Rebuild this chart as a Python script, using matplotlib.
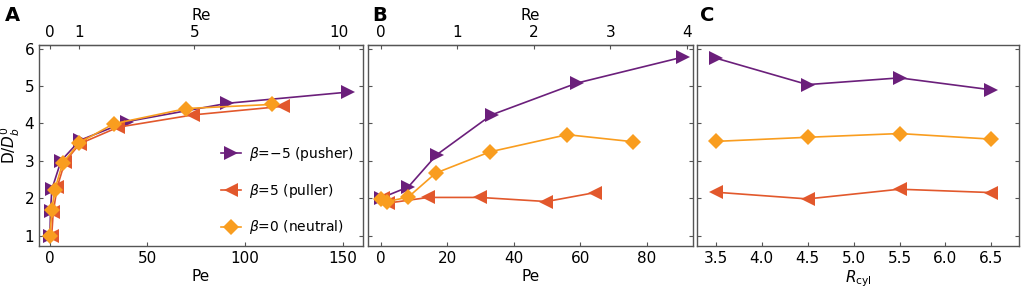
import matplotlib.pyplot as plt
import numpy as np

# Panel A: D/D_b^0 vs Pe
pe_push_A = [0, 0.3, 1.0, 5.7, 15.4, 39.5, 91, 153]
d_push_A = [1.0, 1.67, 2.24, 3.0, 3.55, 4.05, 4.54, 4.84]
pe_pull_A = [0.9, 1.7, 3.7, 7.7, 15.4, 35, 73.5, 119.6]
d_pull_A = [1.0, 1.62, 2.29, 2.98, 3.46, 3.9, 4.23, 4.46]
pe_neut_A = [0, 1, 2.5, 6.5, 15, 32.6, 70, 114]
d_neut_A = [1.0, 1.68, 2.23, 2.93, 3.48, 3.99, 4.4, 4.51]

# Panel B
pe_push_B = [0, 8.3, 16.8, 33.3, 58.9, 90.9]
d_push_B = [2.0, 2.3, 3.16, 4.23, 5.08, 5.78]
pe_pull_B = [0.6, 2.3, 14.3, 29.8, 49.8, 64.4]
d_pull_B = [2.0, 1.87, 2.02, 2.02, 1.91, 2.15]
pe_neut_B = [0, 2, 8.3, 16.5, 32.8, 56, 75.9]
d_neut_B = [1.97, 1.91, 2.03, 2.67, 3.24, 3.7, 3.51]

# Panel C
r_cyl = [3.5, 4.5, 5.5, 6.5]
push_C = [5.75, 5.04, 5.22, 4.9]
pull_C = [2.16, 1.98, 2.24, 2.15]
neut_C = [3.52, 3.63, 3.73, 3.58]

re_ticks_A = [0, 1, 5, 10]
re_ticks_B = [0, 1, 2, 3, 4]

c_push = '#6b1f7b'
c_pull = '#e2582c'
c_neut = '#f99d1f'

plt.rc('font', size=11)
fig = plt.figure(figsize=(10.24, 3), dpi=100)

ax_a = fig.add_axes([39/1024, 0.18, 324/1024, 0.67])
ax_b = fig.add_axes([368/1024, 0.18, 325/1024, 0.67])
ax_c = fig.add_axes([697/1024, 0.18, 322/1024, 0.67])


def draw(ax, x1, y1, x2, y2, x3, y3):
    ax.plot(x1, y1, color=c_push, marker='>', markersize=10, linewidth=1.2,
            markeredgewidth=0, label=r'$\beta$=−5 (pusher)')
    ax.plot(x2, y2, color=c_pull, marker='<', markersize=10, linewidth=1.2,
            markeredgewidth=0, label=r'$\beta$=5 (puller)')
    ax.plot(x3, y3, color=c_neut, marker='D', markersize=8, linewidth=1.2,
            markeredgewidth=0, label=r'$\beta$=0 (neutral)')


draw(ax_a, pe_push_A, d_push_A, pe_pull_A, d_pull_A, pe_neut_A, d_neut_A)
draw(ax_b, pe_push_B, d_push_B, pe_pull_B, d_pull_B, pe_neut_B, d_neut_B)
draw(ax_c, r_cyl, push_C, r_cyl, pull_C, r_cyl, neut_C)

for ax in (ax_a, ax_b, ax_c):
    ax.set_ylim(0.72, 6.1)
    ax.set_yticks([1, 2, 3, 4, 5, 6])
    ax.tick_params(direction='in', length=3, top=False, right=True, color='#555555')
    for s in ax.spines.values():
        s.set_color('#555555')
        s.set_linewidth(1.0)

ax_a.set_xlim(-5.6, 160.5)
ax_a.set_xticks([0, 50, 100, 150])
ax_a.set_xlabel('Pe', labelpad=2)
ax_a.set_ylabel(r'D/$D_b^0$', labelpad=2)

ax_b.set_xlim(-3.8, 93.8)
ax_b.set_xticks([0, 20, 40, 60, 80])
ax_b.set_xlabel('Pe', labelpad=2)
ax_b.tick_params(labelleft=False)

ax_c.set_xlim(3.297, 6.8)
ax_c.set_xticks([3.5, 4.0, 4.5, 5.0, 5.5, 6.0, 6.5])
ax_c.set_xlabel(r'$R_{\rm cyl}$', labelpad=2)
ax_c.tick_params(labelleft=False)

# top Re axes
sec_a = ax_a.secondary_xaxis('top', functions=(lambda x: x / 14.8, lambda x: x * 14.8))
sec_a.set_xticks(re_ticks_A)
sec_a.set_xlabel('Re', labelpad=4)
sec_a.tick_params(direction='in', length=3, color='#555555')

sec_b = ax_b.secondary_xaxis('top', functions=(lambda x: x / 23.0, lambda x: x * 23.0))
sec_b.set_xticks(re_ticks_B)
sec_b.set_xlabel('Re', labelpad=4)
sec_b.tick_params(direction='in', length=3, color='#555555')

ax_a.legend(loc=(0.545, 0.02), frameon=False, fontsize=10, handlelength=1.4,
            labelspacing=1.35, handletextpad=0.6)

fig.text(5/1024, 0.93, 'A', fontsize=14, fontweight='bold')
fig.text(372/1024, 0.93, 'B', fontsize=14, fontweight='bold')
fig.text(700/1024, 0.93, 'C', fontsize=14, fontweight='bold')

fig.savefig('out.png', dpi=100)
